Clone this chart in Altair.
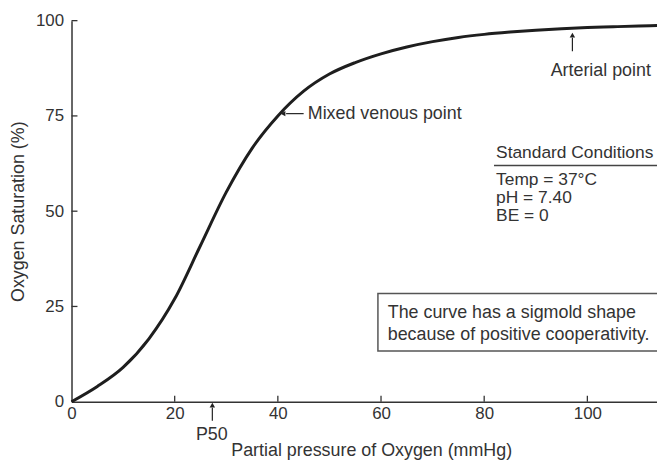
import altair as alt
import pandas as pd

# Curve (PO2 mmHg -> saturation %)
po2 = [0, 5, 10, 15, 20, 25, 30, 35, 40, 45, 50, 55, 60, 65, 70, 75, 80, 85, 90, 95, 100, 105, 110, 113.5]
sat = [0, 4, 9, 16.5, 27, 41, 55, 66.5, 75, 81.5, 86, 89, 91.3, 93.1, 94.5, 95.6, 96.4, 97, 97.5, 97.9, 98.2, 98.4, 98.6, 98.7]

x_ticks = [20, 40, 60, 80, 100]
y_ticks = [25, 50, 75, 100]

FONT = "Liberation Sans"
INK = "#333333"
XDOM = [0, 113.5]
YDOM = [0, 100]
W, H = 590, 384
# inward tick lengths (6px) expressed in data units
XT = 6 * (XDOM[1] - XDOM[0]) / W
YT = 6 * (YDOM[1] - YDOM[0]) / H

curve_df = pd.DataFrame({"po2": po2, "sat": sat})
xs = alt.Scale(domain=XDOM, nice=False, zero=False)
ys = alt.Scale(domain=YDOM, nice=False, zero=False)

curve = alt.Chart(curve_df).mark_line(
    color="#1e1e1e", strokeWidth=3, interpolate="monotone"
).encode(
    x=alt.X("po2:Q", scale=xs, axis=alt.Axis(
        values=[0] + x_ticks, ticks=False, labelPadding=4, labelFlush=False,
        title="Partial pressure of Oxygen (mmHg)", titleX=302, titleY=49,
        titleBaseline="middle", titleAnchor="start", titleAlign="center")),
    y=alt.Y("sat:Q", scale=ys, axis=alt.Axis(
        values=[0] + y_ticks, ticks=False, labelPadding=8,
        title="Oxygen Saturation (%)", titleX=-53, titleY=192,
        titleAngle=-90, titleBaseline="middle", titleAlign="center")),
)

ytick = alt.Chart(pd.DataFrame({"v": y_ticks, "a": [0.0] * 4, "b": [XT] * 4})).mark_rule(
    strokeWidth=1.3, color=INK
).encode(x=alt.X("a:Q", scale=xs), x2="b:Q", y=alt.Y("v:Q", scale=ys))

xtick = alt.Chart(pd.DataFrame({"v": x_ticks, "a": [0.0] * 5, "b": [YT] * 5})).mark_rule(
    strokeWidth=1.3, color=INK
).encode(x=alt.X("v:Q", scale=xs), y=alt.Y("a:Q", scale=ys), y2="b:Q")

# Arrows (shafts)
arrows_df = pd.DataFrame({
    "x": [41.6, 97.1, 27.3],
    "x2": [45.0, 97.1, 27.3],
    "y": [75.6, 92.0, -5.0],
    "y2": [75.6, 95.5, -1.6],
})
shafts = alt.Chart(arrows_df).mark_rule(color="#222", strokeWidth=1.2).encode(
    x=alt.X("x:Q", scale=xs), x2="x2:Q", y=alt.Y("y:Q", scale=ys), y2="y2:Q")

heads_df = pd.DataFrame({
    "x": [41.0, 97.1, 27.3],
    "y": [75.6, 96.2, -0.9],
    "shape": ["triangle-left", "triangle-up", "triangle-up"],
})
heads = alt.Chart(heads_df).mark_point(filled=True, color="#222", size=30, opacity=1).encode(
    x=alt.X("x:Q", scale=xs), y=alt.Y("y:Q", scale=ys),
    shape=alt.Shape("shape:N", scale=None))

# Labels
lab_df = pd.DataFrame({
    "x": [45.8, 102.6, 27.2],
    "y": [75.5, 86.7, -8.7],
    "t": ["Mixed venous point", "Arterial point", "P50"],
})
labels_left = alt.Chart(lab_df.iloc[[0]]).mark_text(
    font=FONT, fontSize=18, color=INK, align="left", baseline="middle"
).encode(x=alt.X("x:Q", scale=xs), y=alt.Y("y:Q", scale=ys), text="t:N")
labels_center = alt.Chart(lab_df.iloc[[1, 2]]).mark_text(
    font=FONT, fontSize=18, color=INK, align="center", baseline="middle"
).encode(x=alt.X("x:Q", scale=xs), y=alt.Y("y:Q", scale=ys), text="t:N")

# Standard conditions block
cond_lines = ["Standard Conditions", "Temp = 37°C", "pH = 7.40", "BE = 0"]
cond_y = [65.2, 58.3, 53.5, 48.7]
cond_df = pd.DataFrame({"x": [82.3] * 4, "y": cond_y, "t": cond_lines})
cond = alt.Chart(cond_df).mark_text(
    font=FONT, fontSize=17.5, color=INK, align="left", baseline="middle"
).encode(x=alt.X("x:Q", scale=xs), y=alt.Y("y:Q", scale=ys), text="t:N")

underline = alt.Chart(pd.DataFrame({"x": [81.9], "x2": [113.5], "y": [62.0]})).mark_rule(
    color="#444", strokeWidth=1.5
).encode(x=alt.X("x:Q", scale=xs), x2="x2:Q", y=alt.Y("y:Q", scale=ys))

# Note box
box = alt.Chart(pd.DataFrame({"x": [59.4], "x2": [115.0], "y": [28.4], "y2": [13.3]})).mark_rect(
    fill="white", stroke="#555", strokeWidth=1.5
).encode(x=alt.X("x:Q", scale=xs), x2="x2:Q", y=alt.Y("y:Q", scale=ys), y2="y2:Q")

note_lines = ["The curve has a sigmold shape", "because of positive cooperativity."]
note_df = pd.DataFrame({"x": [61.3, 61.3], "y": [23.4, 17.4], "t": note_lines})
note = alt.Chart(note_df).mark_text(
    font=FONT, fontSize=18, color=INK, align="left", baseline="middle"
).encode(x=alt.X("x:Q", scale=xs), y=alt.Y("y:Q", scale=ys), text="t:N")

chart = alt.layer(
    box, note, underline, cond, curve, ytick, xtick, shafts, heads, labels_left, labels_center
).properties(
    width=W, height=H,
    autosize=alt.AutoSizeParams(type="none"),
    padding={"left": 64, "top": 11, "right": 0, "bottom": 60},
    background="white",
).configure_view(stroke=None).configure_axis(
    domainColor=INK, domainWidth=1.5, grid=False,
    labelFont=FONT, labelFontSize=17, labelColor=INK,
    titleFont=FONT, titleFontSize=18, titleColor=INK, titleFontWeight="normal",
)

chart.save("out.html", embed_options={"renderer": "svg", "actions": False})
